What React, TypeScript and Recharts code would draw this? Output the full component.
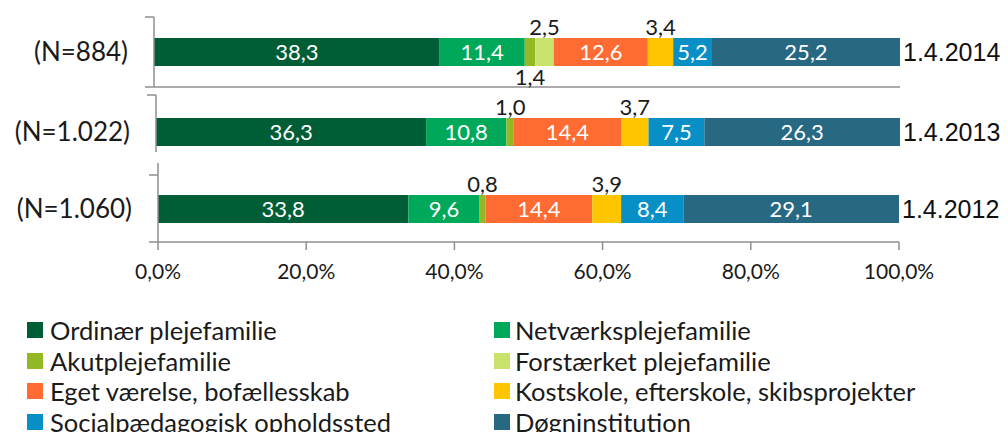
import React from "react";
import { BarChart, Bar, XAxis, YAxis, LabelList } from "recharts";

// categories / series (share in % of the children placed)
const categories = [
  "Ordinær plejefamilie",
  "Netværksplejefamilie",
  "Akutplejefamilie",
  "Forstærket plejefamilie",
  "Eget værelse, bofællesskab",
  "Kostskole, efterskole, skibsprojekter",
  "Socialpædagogisk opholdssted",
  "Døgninstitution",
];
const colors = ["#005E36", "#00A85A", "#93B826", "#C8E26C", "#FF6B32", "#FFC600", "#0890C6", "#276882"];

const dates = ["1.4.2014", "1.4.2013", "1.4.2012"];
const counts = ["(N=884)", "(N=1.022)", "(N=1.060)"];

const ordinaer = [38.3, 36.3, 33.8];
const netvaerk = [11.4, 10.8, 9.6];
const akut = [1.4, 1.0, 0.8];
const forstaerket = [2.5, 0, 0];
const egetVaerelse = [12.6, 14.4, 14.4];
const kostskole = [3.4, 3.7, 3.9];
const socialpaed = [5.2, 7.5, 8.4];
const doegn = [25.2, 26.3, 29.1];

const xTicks = [0, 20, 40, 60, 80, 100];
// the small akut value in 2014 sits under the bar, the others above
const akutBelow = [true, false, false];

const seriesValues = [ordinaer, netvaerk, akut, forstaerket, egetVaerelse, kostskole, socialpaed, doegn];

const rows = dates.map((date, r) => {
  const row: Record<string, any> = { date, n: counts[r] };
  seriesValues.forEach((vals, i) => (row[`s${i}`] = vals[r]));
  return row;
});

const axisColor = "#8f8f8f";
const gill = "'Lato', 'Open Sans', sans-serif";
const fmt = (v: number) => v.toFixed(1).replace(".", ",");
const pct = (v: number) => fmt(v) + "%";

const valueLabel = (seriesIdx: number, rowIdx: number) => (props: any) => {
  const { x, y, width, height, value } = props;
  if (!value) return null;
  const cx = Number(x) + Number(width) / 2;
  if (value >= 5) {
    return (
      <text x={cx} y={Number(y) + Number(height) / 2} dy="0.36em" textAnchor="middle" fill="#fff" fontSize={22} fontFamily={gill}>
        {fmt(value)}
      </text>
    );
  }
  const below = seriesIdx === 2 && akutBelow[rowIdx];
  return (
    <text
      x={cx}
      y={below ? Number(y) + Number(height) + 2 : Number(y) - 3}
      dy={below ? "0.75em" : 0}
      textAnchor="middle"
      fill="#1a1a1a"
      fontSize={22}
      fontFamily={gill}
    >
      {fmt(value)}
    </text>
  );
};

const nLabel = (props: any) => {
  const { x, y, height, value } = props;
  return (
    <text x={Number(x) - 26} y={Number(y) + Number(height) / 2} dy="0.36em" textAnchor="end" fill="#1a1a1a" fontSize={26} fontFamily={gill}>
      {value}
    </text>
  );
};

const dateLabel = (props: any) => {
  const { x, y, width, height, value } = props;
  return (
    <text x={Number(x) + Number(width) + 3} y={Number(y) + Number(height) / 2} dy="0.36em" fill="#111" fontSize={25} fontFamily="'Liberation Sans', Arial, sans-serif">
      {value}
    </text>
  );
};

// excel style tick marks on the category boundaries (band edges)
const edgeTicks = (props: any) => {
  const { x, y, payload } = props;
  const off = Number(payload?.offset ?? 0);
  return (
    <g stroke={axisColor} strokeWidth={1.5}>
      <line x1={x - 9} x2={x} y1={y - off} y2={y - off} />
      <line x1={x - 9} x2={x} y1={y + off} y2={y + off} />
    </g>
  );
};

type PanelProps = {
  index: number;
  top: number;
  height: number;
  clipHeight: number;
  left: number;
  right: number;
  mTop: number;
  mBottom: number;
  xMode: "none" | "line" | "full";
  padTop?: number;
};

function Panel({ index, top, height, clipHeight, left, right, mTop, mBottom, xMode, padTop = 0 }: PanelProps) {
  const data = [rows[index]];
  const full = xMode === "full";
  return (
    <div style={{ position: "absolute", left: 0, top, width: 1008, height: clipHeight, overflow: "hidden", background: full ? "#fff" : "transparent" }}>
      <BarChart width={1008} height={height} data={data} layout="vertical" margin={{ top: mTop, bottom: mBottom, left: 0, right }} barSize={28}>
        <XAxis
          type="number"
          domain={[0, 100]}
          ticks={xTicks}
          interval={0}
          hide={xMode === "none"}
          height={full ? 42 : 1}
          tick={full ? { fill: "#1a1a1a", fontSize: 21, fontFamily: gill } : false}
          tickLine={full ? { stroke: axisColor, strokeWidth: 1.5 } : false}
          tickSize={8}
          tickMargin={14}
          axisLine={{ stroke: axisColor, strokeWidth: 1.5 }}
          tickFormatter={pct}
        />
        <YAxis
          yAxisId="cat"
          type="category"
          dataKey="date"
          width={left}
          tickSize={0}
          tickMargin={0}
          tickLine={false}
          tick={edgeTicks}
          axisLine={{ stroke: axisColor, strokeWidth: 1.5 }}
          padding={{ top: padTop, bottom: 0 }}
        />
        {categories.map((name, i) => (
          <Bar key={name} name={name} dataKey={`s${i}`} stackId="a" yAxisId="cat" fill={colors[i]} isAnimationActive={false}>
            <LabelList dataKey={`s${i}`} content={valueLabel(i, index)} />
            {i === 0 && <LabelList dataKey="n" content={nLabel} />}
            {i === categories.length - 1 && <LabelList dataKey="date" content={dateLabel} />}
          </Bar>
        ))}
      </BarChart>
    </div>
  );
}

function LegendBlock() {
  return (
    <div style={{ position: "absolute", left: 0, top: 0, width: 1008, height: 432 }}>
      {categories.map((name, i) => {
        const col = i % 2;
        const row = Math.floor(i / 2);
        return (
          <div
            key={name}
            style={{
              position: "absolute",
              left: col === 0 ? 27 : 494,
              top: 317 + row * 30.5,
              height: 26,
              display: "flex",
              alignItems: "center",
              whiteSpace: "nowrap",
              fontFamily: gill,
              fontSize: 25.5,
              color: "#1a1a1a",
            }}
          >
            <span style={{ display: "inline-block", width: 16, height: 16, background: colors[i], marginRight: col === 0 ? 7 : 5 }} />
            {name}
          </div>
        );
      })}
    </div>
  );
}

export default function App() {
  return (
    <div style={{ position: "absolute", left: 0, top: 0, width: 1008, height: 432, background: "#fff", overflow: "hidden" }}>
      <Panel index={0} top={0} height={92} clipHeight={92} left={154} right={108} mTop={17} mBottom={4} xMode="line" />
      <Panel index={1} top={88} height={90} clipHeight={64} left={156} right={108} mTop={7} mBottom={9} xMode="none" />
      <Panel index={2} top={152} height={140} clipHeight={140} left={158} right={109} mTop={11} mBottom={8} xMode="full" padTop={12} />
      <LegendBlock />
    </div>
  );
}
